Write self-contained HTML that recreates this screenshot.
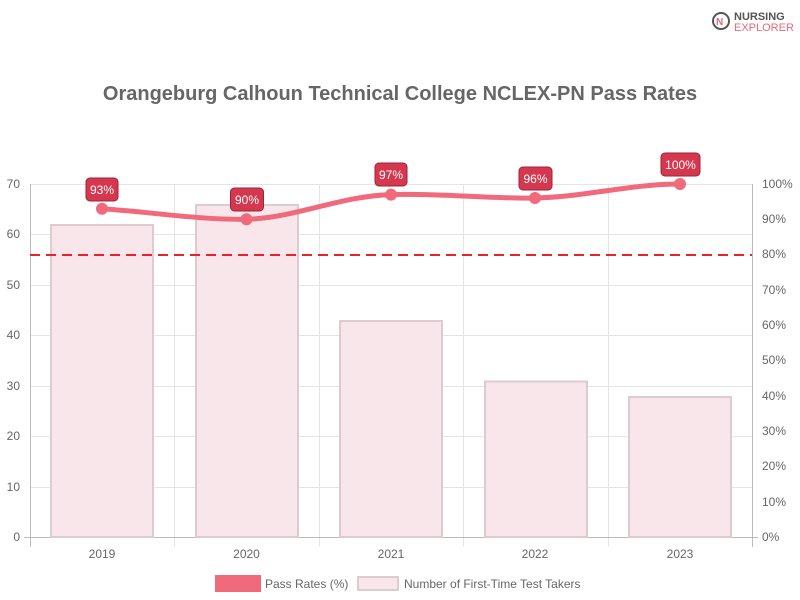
<!DOCTYPE html>
<html><head><style>
body{margin:0;background:#fff;}
svg{display:block;font-family:"Liberation Sans",Arial,sans-serif;}
</style></head><body>
<svg width="800" height="600" xmlns="http://www.w3.org/2000/svg">
<!-- logo -->
<circle cx="721" cy="21" r="8" fill="none" stroke="#555" stroke-width="2"/>
<text x="716" y="25" font-size="10" font-weight="bold" fill="#e8697a">N</text>
<text x="734" y="20" font-size="11" font-weight="bold" fill="#555">NURSING</text>
<text x="734" y="31" font-size="11" fill="#e8697a">EXPLORER</text>
<text x="400" y="100" text-anchor="middle" font-size="20" font-weight="bold" fill="#666">Orangeburg Calhoun Technical College NCLEX-PN Pass Rates</text>
<!-- grid -->
<g stroke="#e5e5e5" stroke-width="1">
<line x1="30" x2="752" y1="184.5" y2="184.5"/><line x1="30" x2="752" y1="234.5" y2="234.5"/><line x1="30" x2="752" y1="285.5" y2="285.5"/><line x1="30" x2="752" y1="335.5" y2="335.5"/><line x1="30" x2="752" y1="386.5" y2="386.5"/><line x1="30" x2="752" y1="436.5" y2="436.5"/><line x1="30" x2="752" y1="487.5" y2="487.5"/>
<line x1="174.5" x2="174.5" y1="184" y2="547"/><line x1="319.5" x2="319.5" y1="184" y2="547"/><line x1="463.5" x2="463.5" y1="184" y2="547"/><line x1="608.5" x2="608.5" y1="184" y2="547"/>
</g>
<g stroke="#bbb"><line x1="30.5" x2="30.5" y1="184" y2="547"/><line x1="752.5" x2="752.5" y1="184" y2="547"/><line x1="24" x2="758" y1="537.5" y2="537.5"/></g>
<g font-size="12" fill="#666" text-anchor="end">
<text x="20" y="188">70</text><text x="20" y="238">60</text><text x="20" y="289">50</text><text x="20" y="339">40</text><text x="20" y="390">30</text><text x="20" y="440">20</text><text x="20" y="491">10</text><text x="20" y="541">0</text>
</g>
<g font-size="12" fill="#666">
<text x="762" y="188">100%</text><text x="762" y="223">90%</text><text x="762" y="258">80%</text><text x="762" y="294">70%</text><text x="762" y="329">60%</text><text x="762" y="364">50%</text><text x="762" y="400">40%</text><text x="762" y="435">30%</text><text x="762" y="470">20%</text><text x="762" y="506">10%</text><text x="762" y="541">0%</text>
</g>
<g font-size="12" fill="#666" text-anchor="middle">
<text x="102" y="558">2019</text><text x="246.5" y="558">2020</text><text x="391" y="558">2021</text><text x="535" y="558">2022</text><text x="680" y="558">2023</text>
</g>
<!-- bars -->
<g fill="#f8e6eb" stroke="#dcccd1" stroke-width="2">
<rect x="51" y="225" width="102" height="312"/>
<rect x="196" y="205" width="102" height="332"/>
<rect x="340" y="321" width="102" height="216"/>
<rect x="485" y="381.5" width="102" height="155.5"/>
<rect x="629" y="397" width="102" height="140"/>
</g>
<line x1="30" x2="752" y1="255" y2="255" stroke="#f0202a" stroke-width="2" stroke-dasharray="10,6"/>
<path d="M102,208.7 C150,212 200,220 246.5,219.3 C295,218 340,196 391,194.6 C440,193 490,199 535,198 C585,197 630,184 680,184" fill="none" stroke="#f06a7c" stroke-width="5"/>
<g fill="#f06a7c"><circle cx="102" cy="208.7" r="6"/><circle cx="246.5" cy="219.3" r="6"/><circle cx="391" cy="194.6" r="6"/><circle cx="535" cy="198" r="6"/><circle cx="680" cy="184" r="6"/></g>
<g fill="#d5384e" stroke="#9e2236" stroke-width="1">
<rect x="86" y="178" width="32" height="23" rx="4"/>
<rect x="230.5" y="188" width="33" height="23" rx="4"/>
<rect x="375" y="163" width="32" height="23" rx="4"/>
<rect x="519" y="167" width="33" height="23" rx="4"/>
<rect x="661" y="153" width="39" height="23" rx="4"/>
</g>
<g font-size="12" fill="#fff" text-anchor="middle">
<text x="102" y="194">93%</text><text x="247" y="204">90%</text><text x="391" y="179">97%</text><text x="535.5" y="183">96%</text><text x="680.5" y="169">100%</text>
</g>
<!-- legend -->
<rect x="215" y="575" width="46" height="17" fill="#f06a7c"/>
<text x="265" y="588" font-size="12" fill="#666">Pass Rates (%)</text>
<rect x="358" y="577" width="40" height="13" fill="#f8e6eb" stroke="#dcccd1" stroke-width="2"/>
<text x="404" y="588" font-size="12" fill="#666">Number of First-Time Test Takers</text>
</svg>
</body></html>
